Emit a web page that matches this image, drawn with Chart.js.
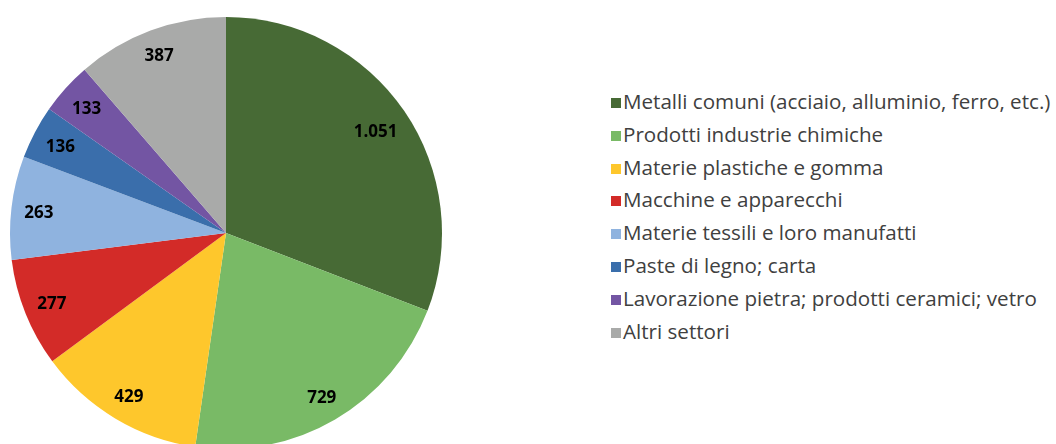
<!DOCTYPE html>
<html>
<head>
<meta charset="utf-8">
<script src="https://cdn.jsdelivr.net/npm/chart.js@4"></script>
<style>
  html, body { margin: 0; padding: 0; background: #fff; overflow: hidden; }
  #wrap { position: relative; width: 1056px; height: 444px; overflow: hidden; }
  #box { position: absolute; left: 0; top: 0; width: 452px; height: 450px; }
  #legend { position: absolute; left: 611px; top: 85px; margin: 0; padding: 0; list-style: none;
    font-family: 'Open Sans', sans-serif; font-size: 20.6px; color: #404040; }
  #legend li { height: 32.8px; line-height: 32.8px; white-space: nowrap; }
  #legend span.sw { display: inline-block; width: 10px; height: 10px; margin-right: 2px; vertical-align: 1px; }
</style>
</head>
<body>
<div id="wrap">
  <div id="box"><canvas id="chart"></canvas></div>
  <ul id="legend"></ul>
</div>
<script>
const sectors = [
  'Metalli comuni (acciaio, alluminio, ferro, etc.)',
  'Prodotti industrie chimiche',
  'Materie plastiche e gomma',
  'Macchine e apparecchi',
  'Materie tessili e loro manufatti',
  'Paste di legno; carta',
  'Lavorazione pietra; prodotti ceramici; vetro',
  'Altri settori',
];
const values = [1051, 729, 429, 277, 263, 136, 133, 387];
const colors = ['#476A35', '#79BA66', '#FEC72C', '#D32B28', '#8FB3DF', '#3A6EAB', '#7355A3', '#A9AAA9'];

// 1051 -> "1.051"
function fmt(v) {
  return String(v).replace(/\B(?=(\d{3})+(?!\d))/g, '.');
}

// values written inside each slice, pushed out towards the rim
const sliceLabels = {
  id: 'sliceLabels',
  afterDatasetsDraw(chart) {
    const ctx = chart.ctx;
    const meta = chart.getDatasetMeta(0);
    ctx.save();
    ctx.font = 'bold 17px "Open Sans"';
    ctx.fillStyle = '#000';
    ctx.textAlign = 'center';
    ctx.textBaseline = 'middle';
    meta.data.forEach((arc, i) => {
      const p = arc.getProps(['x', 'y', 'startAngle', 'endAngle', 'outerRadius']);
      const mid = (p.startAngle + p.endAngle) / 2;
      const ux = Math.cos(mid), uy = Math.sin(mid);
      const text = fmt(chart.data.datasets[0].data[i]);
      const hw = ctx.measureText(text).width / 2, hh = 8;
      // far corner of the label box must stay inside radius L
      const cx = Math.sign(ux) * hw, cy = Math.sign(uy) * hh;
      const L = p.outerRadius - 12;
      const uc = ux * cx + uy * cy;
      const d = -uc + Math.sqrt(uc * uc - (cx * cx + cy * cy) + L * L);
      ctx.fillText(text, p.x + ux * d, p.y + uy * d + 2);
    });
    ctx.restore();
  }
};

const chart = new Chart('chart', {
  type: 'pie',
  data: {
    labels: sectors,
    datasets: [{
      data: values,
      backgroundColor: colors,
      borderWidth: 0,
    }],
  },
  options: {
    responsive: true,
    maintainAspectRatio: false,
    animation: false,
    layout: { padding: { top: 17, left: 10, right: 10, bottom: 1 } },
    plugins: {
      legend: { display: false },
      tooltip: { enabled: false },
    },
  },
  plugins: [sliceLabels],
});

// legend on the right, built from the chart's own legend items
const ul = document.getElementById('legend');
chart.options.plugins.legend.labels.generateLabels(chart).forEach((item) => {
  const li = document.createElement('li');
  const sw = document.createElement('span');
  sw.className = 'sw';
  sw.style.background = item.fillStyle;
  li.appendChild(sw);
  li.appendChild(document.createTextNode(item.text));
  ul.appendChild(li);
});
</script>
</body>
</html>
